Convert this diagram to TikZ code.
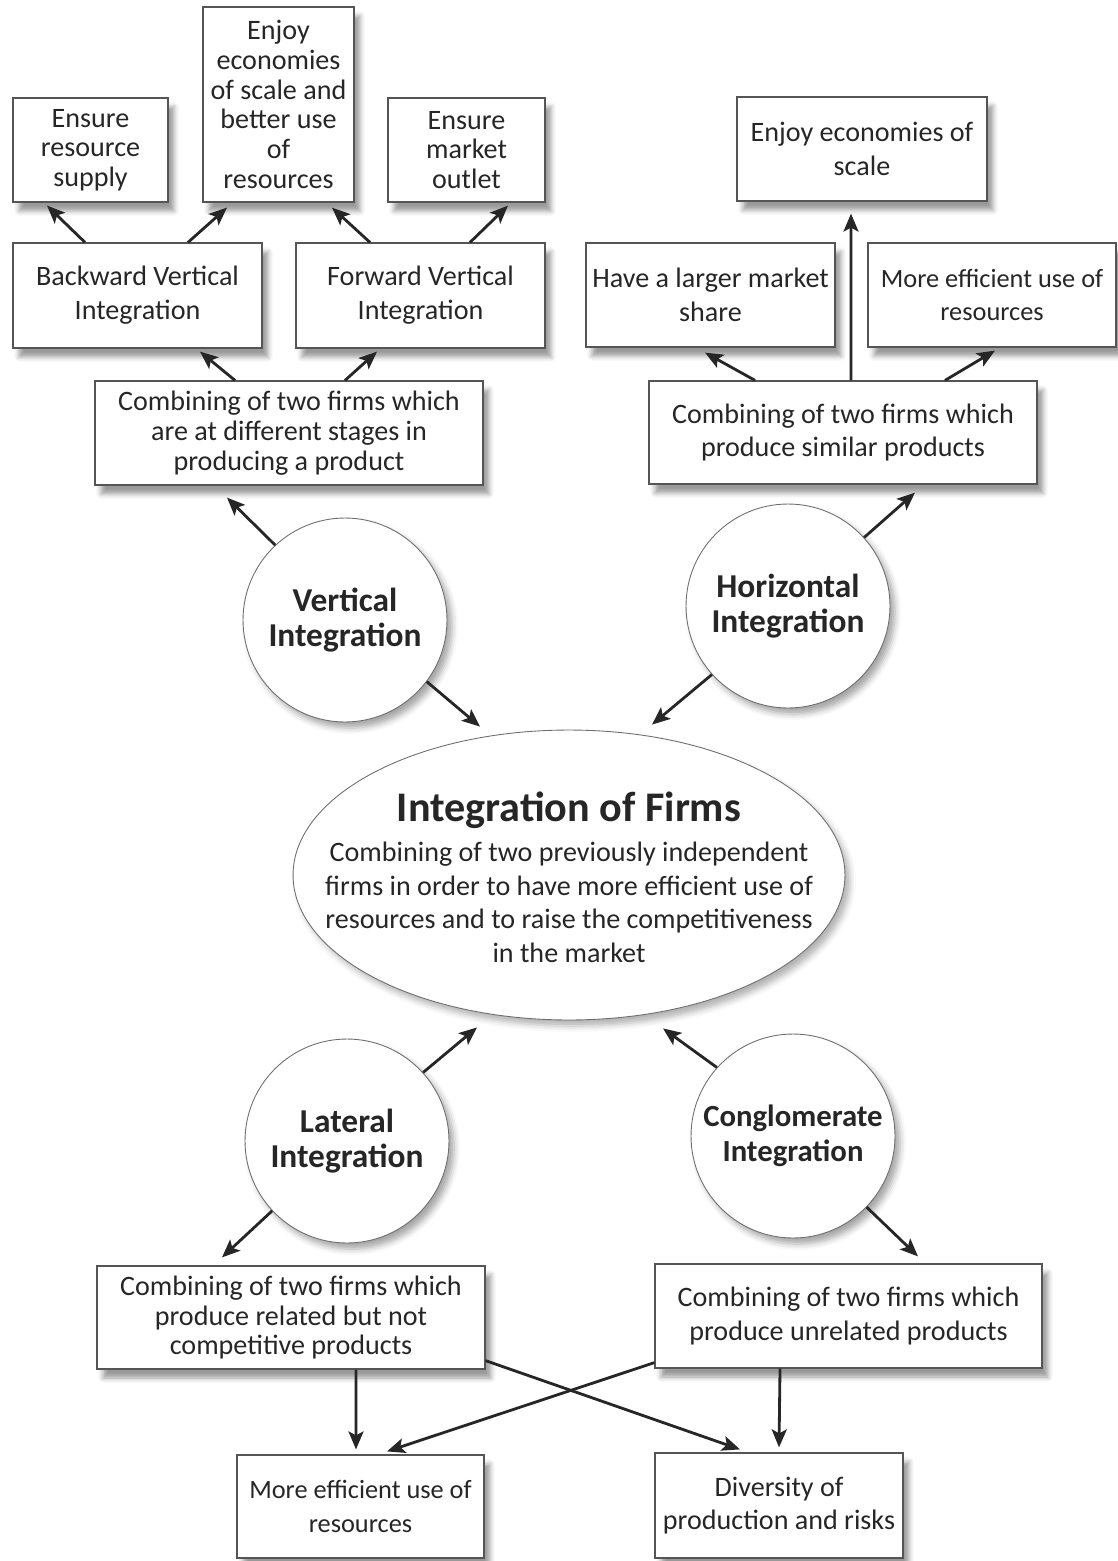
\documentclass[tikz,border=0pt]{standalone}
\usepackage{fontspec}
\setmainfont{Carlito}
\usetikzlibrary{arrows.meta,shapes.geometric,shadows.blur}
\definecolor{inkgray}{HTML}{262626}
\definecolor{framegray}{HTML}{555555}

\begin{document}
\begin{tikzpicture}[
		x=0.02cm, y=-0.02cm,
		box/.style={rectangle, draw=framegray, line width=0.7pt, fill=white, text=inkgray, align=center, inner sep=0pt,
			font=\fontsize{16}{19.2}\selectfont,
			blur shadow={shadow xshift=0.12cm, shadow yshift=-0.18cm, shadow blur radius=0.1cm, shadow opacity=40}},
		dense/.style={font=\fontsize{16}{16.9}\selectfont},
		narrow/.style={font=\fontsize{15}{19.2}\selectfont},
		hub/.style={circle, draw=framegray!85, line width=0.5pt, fill=white, text=inkgray, align=center, inner sep=0pt,
			minimum size=4.08cm, font=\fontsize{19}{20}\selectfont\bfseries,
			blur shadow={shadow xshift=0.1cm, shadow yshift=-0.12cm, shadow blur radius=0.12cm, shadow opacity=35}},
		arr/.style={draw=inkgray, line width=1.6pt, -{Stealth[length=0.36cm, width=0.3cm, inset=0.08cm]}}
	]
  \useasboundingbox (0,0) rectangle (1117,1561);
  % vertical side
  \node (r_supply) [box, dense, minimum width=3.1cm, minimum height=2.08cm] at (90.5,150) {Ensure\\resource\\supply};
  \node (e_scale) [box, dense, minimum width=3.02cm, minimum height=3.9cm] at (278.5,104.5) {Enjoy\\economies\\of scale and\\better use\\of\\resources};
  \node (m_outlet) [box, dense, minimum width=3.14cm, minimum height=2.08cm] at (466.5,150) {Ensure\\market\\outlet};
  \node (b_vert) [box, minimum width=4.98cm, minimum height=2.1cm] at (137.5,295.5) {Backward Vertical\\Integration};
  \node (f_vert) [box, minimum width=4.98cm, minimum height=2.1cm] at (420.5,295.5) {Forward Vertical\\Integration};
  \node (v_def) [box, dense, minimum width=7.76cm, minimum height=2.08cm] at (289,433) {Combining of two firms which\\are at different stages in\\producing a product};
  % horizontal side
  \node (h_scale) [box, minimum width=5cm, minimum height=2.08cm] at (862,149) {Enjoy economies of\\scale};
  \node (h_share) [box, minimum width=4.98cm, minimum height=2.08cm] at (710.5,295) {Have a larger market\\share};
  \node (h_eff) [box, narrow, minimum width=4.96cm, minimum height=2.08cm] at (992,295) {More efficient use of\\resources};
  \node (h_def) [box, minimum width=7.76cm, minimum height=2.06cm] at (843,432.5) {Combining of two firms which\\produce similar products};
  % centre
  \node (v_int) [hub] at (345,620) {Vertical\\Integration};
  \node (h_int) [hub] at (788,606) {Horizontal\\Integration};
  \node (firms) [ellipse, draw=framegray!85, line width=0.5pt, fill=white, inner sep=0pt, minimum width=11.04cm, minimum height=5.8cm,
    blur shadow={shadow xshift=0.1cm, shadow yshift=-0.12cm, shadow blur radius=0.12cm, shadow opacity=30}] at (569,875) {};
  \node (firms_label) [draw=none, align=center, text=inkgray, font=\fontsize{16}{19}\selectfont] at (569,877)
    {{\fontsize{24}{26}\selectfont\bfseries Integration of Firms}\\[4pt]
     Combining of two previously independent\\firms in order to have more efficient use of\\resources and to raise the competitiveness\\in the market};
  \node (l_int) [hub] at (347,1141) {Lateral\\Integration};
  \node (c_int) [hub, font=\fontsize{17.5}{20}\selectfont\bfseries] at (793,1136) {Conglomerate\\Integration};
  % lateral and conglomerate side
  \node (l_def) [box, dense, minimum width=7.76cm, minimum height=2.06cm] at (291,1317.5) {Combining of two firms which\\produce related but not\\competitive products};
  \node (c_def) [box, minimum width=7.74cm, minimum height=2.08cm] at (848.5,1316) {Combining of two firms which\\produce unrelated products};
  \node (l_eff) [box, narrow, minimum width=4.94cm, minimum height=2.06cm] at (360.5,1506.5) {More efficient use of\\resources};
  \node (c_div) [box, minimum width=4.96cm, minimum height=2.1cm] at (779,1505.5) {Diversity of\\production and risks};
  % arrows
  \draw ([xshift=-1.05cm]b_vert.north) edge[arr] ([xshift=-0.87cm,yshift=-0.06cm]r_supply.south);
  \draw ([xshift=1.01cm]b_vert.north) edge[arr] ([xshift=-1.03cm,yshift=-0.1cm]e_scale.south);
  \draw ([xshift=-1.01cm]f_vert.north) edge[arr] ([xshift=1.07cm,yshift=-0.1cm]e_scale.south);
  \draw ([xshift=0.99cm]f_vert.north) edge[arr] ([xshift=0.83cm,yshift=-0.06cm]m_outlet.south);
  \draw ([xshift=-1.08cm]v_def.north) edge[arr] ([xshift=1.25cm,yshift=-0.06cm]b_vert.south);
  \draw ([xshift=1.12cm]v_def.north) edge[arr] ([xshift=-0.87cm,yshift=-0.06cm]f_vert.south);
  \draw (v_int.133) edge[arr] ([xshift=-1.24cm,yshift=-0.24cm]v_def.south);
  \draw (v_int.-37) edge[arr] ([xshift=-1.78cm,yshift=0.06cm]firms.north);
  \draw (h_int.-138) edge[arr] ([xshift=1.66cm,yshift=0.1cm]firms.north);
  \draw (h_int.42) edge[arr] ([xshift=1.44cm,yshift=-0.16cm]h_def.south);
  \draw ([xshift=0.16cm]h_def.north) edge[arr] ([xshift=-0.22cm,yshift=-0.24cm]h_scale.south);
  \draw ([xshift=-1.76cm]h_def.north) edge[arr] ([xshift=-0.11cm,yshift=-0.1cm]h_share.south);
  \draw ([xshift=2.04cm]h_def.north) edge[arr] ([xshift=0.06cm,yshift=-0.06cm]h_eff.south);
  \draw (l_int.42) edge[arr] ([xshift=-1.84cm,yshift=-0.14cm]firms.south);
  \draw (c_int.138) edge[arr] ([xshift=1.88cm,yshift=-0.16cm]firms.south);
  \draw (l_int.-137) edge[arr] ([xshift=-1.38cm,yshift=0.16cm]l_def.north);
  \draw (c_int.-44) edge[arr] ([xshift=1.39cm,yshift=0.14cm]c_def.north);
  \draw ([xshift=1.3cm]l_def.south) edge[arr] ([xshift=-0.09cm,yshift=0.1cm]l_eff.north);
  \draw ([xshift=-1.37cm]c_def.south) edge[arr] ([yshift=0.1cm]c_div.north);
  \draw ([yshift=0.18cm]l_def.south east) edge[arr] ([xshift=-0.78cm,yshift=0.06cm]c_div.north);
  \draw ([yshift=0.12cm]c_def.south west) edge[arr] ([xshift=0.53cm,yshift=0.06cm]l_eff.north);
\end{tikzpicture}
\end{document}
